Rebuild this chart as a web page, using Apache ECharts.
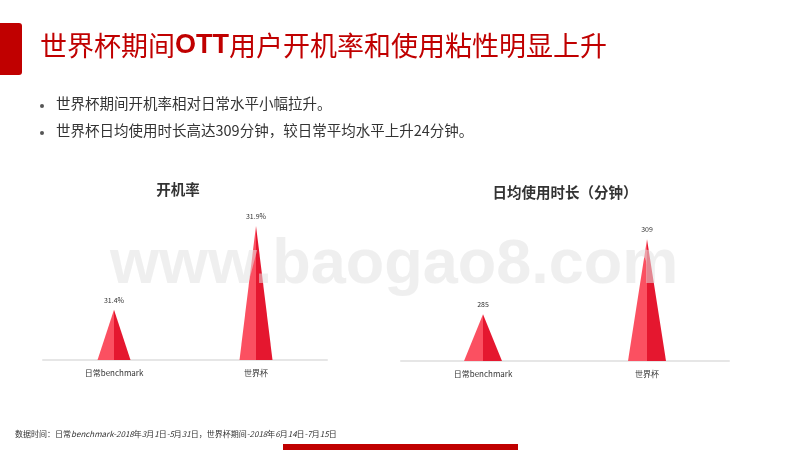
<!DOCTYPE html>
<html>
<head>
<meta charset="utf-8">
<script src="https://cdn.jsdelivr.net/npm/echarts@6/dist/echarts.min.js"></script>
<style>html,body{margin:0;padding:0;background:#fff}#c{width:800px;height:450px}</style>
</head>
<body>
<div id="c"></div>
<script>
const categories = ['日常benchmark', '世界杯'];
const bootRate = [31.4, 31.9];
const bootRateLabels = ['31.4%', '31.9%'];
const usageMinutes = [285, 309];
const usageLabels = ['285', '309'];
const chartTitles = ['开机率', '日均使用时长（分钟）'];
const mainTitleParts = ['世界杯期间', 'OTT', '用户开机率和使用粘性明显上升'];
const bullets = ['世界杯期间开机率相对日常水平小幅拉升。', '世界杯日均使用时长高达309分钟，较日常平均水平上升24分钟。'];
const footnote = '数据时间：日常benchmark-2018年3月1日-5月31日，世界杯期间-2018年6月14日-7月15日';

const CJK = '"Noto Sans CJK SC", "Noto Sans", sans-serif';
const LIGHT = '#fb5061';
const DARK = '#e5172f';

function triSeries(idx, data, w, labels, axisMin) {
  return {
    type: 'custom', xAxisIndex: idx, yAxisIndex: idx,
    data: data.map((v, i) => [i, v]),
    encode: { x: 0, y: 1 },
    renderItem: function (params, api) {
      const top = api.coord([api.value(0), api.value(1)]);
      const base = api.coord([api.value(0), axisMin]);
      const cx = top[0], ty = top[1], by = base[1], h = w / 2;
      return {
        type: 'group',
        children: [
          { type: 'polygon', shape: { points: [[cx - h, by], [cx, ty], [cx, by]] }, style: { fill: LIGHT } },
          { type: 'polygon', shape: { points: [[cx, by], [cx, ty], [cx + h, by]] }, style: { fill: DARK } },
          { type: 'text', x: cx, y: ty - 6,
            style: { text: labels[params.dataIndex], fontSize: 7, fill: '#333', fontFamily: CJK, align: 'center', verticalAlign: 'bottom' } }
        ]
      };
    }
  };
}

// footnote: latin/digit runs in italic, CJK upright
const footRich = footnote.replace(/([A-Za-z0-9\-]+)/g, '}{i|$1}{n|');
const footText = ('{n|' + footRich + '}').replace(/\{n\|\}/g, '');

const chart = echarts.init(document.getElementById('c'));
const axisCommon = {
  type: 'category',
  axisLine: { lineStyle: { color: '#e6e6e6', width: 2 } },
  axisTick: { show: false },
  axisLabel: { fontSize: 8, color: '#333', fontFamily: CJK, margin: 9 }
};
chart.setOption({
  animation: false,
  title: [
    { text: chartTitles[0], left: 173, top: 177, textAlign: 'center',
      textStyle: { fontSize: 14.5, fontWeight: 'bold', color: '#333', fontFamily: CJK } },
    { text: chartTitles[1], left: 560, top: 180, textAlign: 'center',
      textStyle: { fontSize: 14.5, fontWeight: 'bold', color: '#333', fontFamily: CJK } }
  ],
  grid: [
    { left: 43, right: 473, top: 209, bottom: 90 },
    { left: 401, right: 71, top: 236, bottom: 89 }
  ],
  xAxis: [
    Object.assign({ gridIndex: 0, data: categories }, axisCommon),
    Object.assign({ gridIndex: 1, data: categories }, axisCommon)
  ],
  yAxis: [
    { gridIndex: 0, type: 'value', min: 31.1, max: 32.0, show: false },
    { gridIndex: 1, type: 'value', min: 270, max: 310, show: false }
  ],
  series: [triSeries(0, bootRate, 33, bootRateLabels, 31.1), triSeries(1, usageMinutes, 38, usageLabels, 270)],
  graphic: [
    { type: 'rect', shape: { x: 0, y: 23, width: 22, height: 52, r: [0, 3, 3, 0] }, style: { fill: '#c00000' } },
    { type: 'text', left: 40, top: 32, style: {
        text: '{a|' + mainTitleParts[0] + '}{b|' + mainTitleParts[1] + '}{a|' + mainTitleParts[2] + '}',
        rich: {
          a: { fontSize: 27, fill: '#c00000', fontFamily: CJK },
          b: { fontSize: 27, fill: '#c00000', fontWeight: 'bold', fontFamily: 'Liberation Sans, Arial, sans-serif' }
        } } },
    { type: 'circle', shape: { cx: 42, cy: 106, r: 2 }, style: { fill: '#555' } },
    { type: 'text', left: 56, top: 96, style: { text: bullets[0], fontSize: 14.5, fill: '#333', fontFamily: CJK } },
    { type: 'circle', shape: { cx: 42, cy: 133, r: 2 }, style: { fill: '#555' } },
    { type: 'text', left: 56, top: 123, style: { text: bullets[1], fontSize: 14.5, fill: '#333', fontFamily: CJK } },
    { type: 'text', left: 15, top: 430, style: {
        text: footText,
        rich: {
          n: { fontSize: 8, fill: '#333', fontFamily: CJK },
          i: { fontSize: 8, fill: '#333', fontFamily: CJK, fontStyle: 'italic' }
        } } },
    { type: 'rect', shape: { x: 283, y: 444, width: 235, height: 6 }, style: { fill: '#c00000' } },
    { type: 'text', left: 110, top: 234, z: 100,
      style: { text: 'www.baogao8.com', fontSize: 63, fontWeight: 'bold', fontFamily: 'Liberation Sans, Arial, sans-serif', fill: 'rgba(225,225,225,0.55)' } }
  ]
});
</script>
</body>
</html>
